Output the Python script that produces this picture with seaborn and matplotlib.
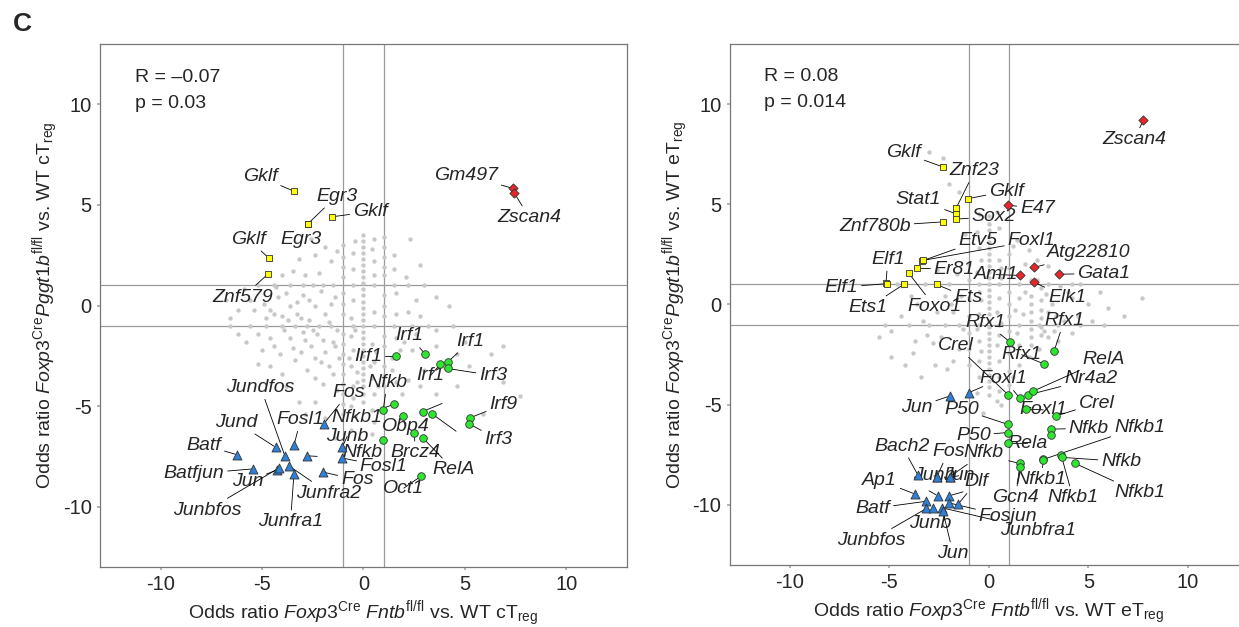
import matplotlib
matplotlib.use("Agg")

import matplotlib.pyplot as plt
import pandas as pd
import seaborn as sns

# background motifs (x, y)
LEFT_GRAY = [
    (0, 3.5), (0, 3.2), (0, 2.9), (0, 2.6), (0, 2.3), (0, 2.0), (0, 1.7), (0, 1.4), (0, 1.1),
    (0, 0.8), (0, 0.5), (0, 0.2), (0, -0.1), (0, -0.4), (0, -0.7), (0, -1.0), (0, -1.3),
    (0, -1.6), (0, -1.9), (0, -2.2), (0, -2.5), (0, -2.8), (0, -3.1), (0, -3.4), (0, -3.7),
    (0, -4.0), (0, -4.4), (0, -4.8),
    (-1, 3.0), (-1, 2.4), (-1, 1.9), (-1, 1.4), (-1, 0.6), (-1, 0.1), (-1, -0.4), (-1, -1.4),
    (-1, -1.9), (-1, -2.4), (-1, -2.9), (-1, -3.4), (-1, -3.9), (-1, -4.4), (-1, -4.9), (-1, -5.4),
    (1, 3.4), (1, 2.9), (1, 2.4), (1, 1.9), (1, 1.5), (1, 0.5), (1, 0.0), (1, -0.5), (1, -1.5),
    (1, -2.0), (1, -3.0), (1, -3.5), (1, -4.0),
    (-5.2, 1), (-4.4, 1), (-3.6, 1), (-3.0, 1), (-2.5, 1), (-2.0, 1), (-1.5, 1), (-0.5, 1),
    (0.5, 1), (1.5, 1), (2.2, 1), (3.0, 1),
    (-6.6, -1), (-5.6, -1), (-4.8, -1), (-4.0, -1), (-3.4, -1), (-2.8, -1), (-2.2, -1),
    (-1.6, -1), (-0.5, -1), (0.5, -1), (1.5, -1), (2.4, -1), (3.2, -1), (4.4, -1),
    (2.3, 3.3), (2.8, 2.0), (1.5, 2.5), (-2.4, 2.5), (-3.2, 2.3), (-2.9, 1.5), (-4.0, 1.5),
    (-3.5, 1.7), (-2.2, 1.6), (-1.6, 2.2), (-0.5, 2.6), (-0.5, 1.8), (0.5, 2.2), (0.5, 1.5),
    (3.6, 0.4), (2.6, 0.3), (1.6, 0.6), (-5.6, 0.3), (-6.8, 0.3), (-6.6, -0.6), (-5.4, -0.2),
    (-4.6, -0.2), (-3.6, 0.0), (-2.4, 0.0), (-1.9, -0.4), (-1.7, -0.8), (-4.2, 0.4), (-3.0, 0.5),
    (-1.4, 0.4), (-0.5, 0.3), (0.5, -0.3), (1.6, -0.4), (2.2, -0.3), (-5.2, -1.4), (-5.2, -2.9),
    (-4.4, -2.0), (-3.6, -1.6), (-3.1, -2.3), (-2.8, -3.2), (-2.1, -2.8), (-1.5, -1.8),
    (-2.4, -3.6), (-1.5, -3.4), (-0.5, -2.2), (-0.5, -4.0), (-0.5, -4.6), (0.5, -2.8),
    (1.6, -1.6), (2.6, -1.4), (3.6, -1.2), (4.6, -2.4), (6.3, -2.4), (6.9, -2.0), (7.7, -4.5),
    (6.9, -3.8), (4.6, -4.0), (3.6, -4.4), (5.9, -5.4), (2.2, -3.7), (-2.4, -4.8), (-3.2, -4.8),
    (-1.9, -5.6), (-4.8, -0.6), (-4.0, -0.5), (-3.3, -0.4), (-2.7, -0.7), (-2.3, -1.4),
    (-3.0, -1.3), (-3.9, -1.2), (-4.6, -1.6), (-2.6, -2.0), (-1.9, -2.3), (-1.2, -2.6),
    (-1.3, -1.2), (-0.6, -1.5), (-3.4, -2.7), (-2.0, -3.9), (-1.3, -4.2), (-0.6, -3.0),
    (0.4, -3.6), (0.5, -4.4), (0.4, -5.2), (-0.4, -5.5), (1.4, -3.2), (1.8, -2.2), (2.4, -2.2),
    (3.0, -3.2), (2.8, -4.0), (1.9, -4.4), (-4.0, -3.4), (-5.8, -1.8), (-6.2, -0.2),
    (-3.8, -4.0), (-2.9, -5.4), (-0.6, -6.2), (0.4, -6.4), (-1.4, -6.6), (3.6, -2.0),
    (4.0, -3.1), (5.2, -3.0), (5.0, -1.8), (4.2, 0.0), (2.8, -0.5),
    (-4.3, 0.9), (-3.8, 0.6), (-3.3, 0.2), (-2.7, 0.3), (-2.1, 0.7), (-1.6, 0.1), (-4.9, 0.1),
    (-4.4, -0.4), (-3.7, -0.7), (-3.1, -0.6), (-2.5, -1.2), (-2.0, -1.7), (-1.4, -2.0),
    (-2.9, -1.7), (-3.5, -2.1), (-4.1, -2.4), (-2.4, -2.6), (-1.7, -3.0), (-0.6, -0.6),
    (-0.4, -1.2), (-0.7, -2.6), (-0.3, -3.3), (0.4, -1.9), (0.6, -2.3), (0.3, -3.0),
    (0.7, -4.0), (-0.3, -3.8), (-0.6, -5.0), (0.5, -5.8), (1.4, -2.6), (1.6, -3.8),
    (2.0, -1.8), (-1.9, 2.9), (-2.6, 3.3), (-1.3, 2.7), (0.4, 2.8), (0.5, 3.3), (-0.4, 3.2),
    (1.5, 1.8), (2.1, 1.4), (-5.9, 0.8), (-6.2, -1.4), (-5.0, -2.2), (-4.6, -3.0),
]

RIGHT_GRAY = [
    (0, 4.4), (0, 4.0), (0, 3.7), (0, 3.4), (0, 3.1), (0, 2.8), (0, 2.5), (0, 2.2), (0, 1.9),
    (0, 1.6), (0, 1.3), (0, 1.0), (0, 0.7), (0, 0.4), (0, 0.1), (0, -0.2), (0, -0.5), (0, -0.8),
    (0, -1.1), (0, -1.4), (0, -1.7), (0, -2.0), (0, -2.3), (0, -2.6), (0, -2.9), (0, -3.2),
    (0, -3.5), (0, -3.8), (0, -4.1), (0, -4.5),
    (-1, 2.0), (-1, 1.2), (-1, 0.3), (-1, -0.6), (-1, -1.4), (-1, -2.2), (-1, -3.0),
    (1, 2.5), (1, 1.8), (1, 0.6), (1, 0.0), (1, -0.6), (1, -1.3), (1, -2.4), (1, -3.3), (1, -4.0),
    (2.1, 1.2), (2.1, 0.4), (2.1, 0.0), (2.1, -0.4), (2.1, -0.8), (2.1, -1.2), (2.1, -1.6),
    (2.1, -2.0), (2.6, 0.8), (2.6, 0.2), (2.6, -0.3), (2.6, -0.7), (2.6, -1.1), (2.6, -1.5),
    (-4.6, 1), (-3.2, 1), (-2.0, 1), (-0.5, 1), (0.5, 1), (1.5, 1), (3.0, 1), (4.2, 1),
    (-5.2, -1), (-4.0, -1), (-3.0, -1), (-2.2, -1), (-1.5, -1), (-0.5, -1), (0.5, -1),
    (1.5, -1), (2.5, -1), (3.5, -1), (4.6, -1), (5.8, -1),
    (-3.0, 7.6), (-2.3, 7.3), (-2.0, 6.0), (-1.5, 5.6), (-0.5, 4.5), (0.5, 3.8), (1.4, 3.2),
    (2.0, 2.7), (1.8, 2.0), (-1.2, 3.5), (-0.5, 2.8), (0.5, 2.2), (3.0, 1.9), (3.6, 0.9),
    (4.2, 0.3), (5.2, -0.8), (6.8, -0.6), (7.7, 0.3), (3.2, 0.0), (4.2, -1.4), (3.0, -1.6),
    (-5.5, -1.6), (-4.9, -1.3), (-4.9, -2.6), (-3.7, -1.8), (-3.1, -1.5), (-2.7, -3.0),
    (-2.1, -3.2), (-1.5, -2.2), (-1.3, -1.2), (-0.5, -1.8), (-0.5, -2.8), (-0.5, -3.6),
    (0.5, -2.8), (0.5, -3.6), (0.5, -4.3), (1.5, -2.0), (1.5, -3.0), (2.0, -2.6), (2.5, -2.2),
    (3.5, -1.8), (4.5, -0.6), (-1.8, -0.4), (-2.6, -0.4), (-3.6, 0.0), (-2.2, 0.4), (-1.4, 0.4),
    (-0.5, 0.6), (0.5, 0.3), (1.5, 0.3), (1.7, -0.5), (3.0, -0.4), (3.8, -0.8), (-0.5, -0.5),
    (0.5, -1.5), (-4.4, -0.6), (-3.3, -0.8), (-2.4, -1.6), (-1.8, -2.8), (-4.2, -3.0),
    (-3.4, -3.6), (-0.6, -4.4), (0.6, -5.0), (-0.3, -5.4), (1.6, 1.4), (2.4, 1.2), (-0.6, 1.6),
    (0.6, 1.3), (-1.6, 1.5), (4.6, 1.0), (5.6, 0.6), (6.0, -0.2),
    (0.4, -0.4), (0.6, -0.9), (1.3, -0.3), (1.4, -1.4), (1.8, 0.6), (2.9, 0.5), (3.4, -0.6),
    (-0.4, 0.2), (-0.6, -1.2), (-0.4, -2.3), (0.4, -2.0), (0.6, 1.8), (-0.4, 2.2), (-0.6, 3.6),
    (0.4, 4.6), (1.2, 2.9), (-1.9, 0.0), (-2.8, -1.9), (-3.8, -2.4), (1.2, -3.6), (0.4, -4.8),
    (2.8, -1.3), (3.3, -1.3), (4.0, 0.6), (5.0, 0.0), (2.4, 2.2), (-2.6, 1.7), (-3.9, 0.4),
]

# labelled motifs: (name, x, y, label x, label y)
LEFT_YELLOW = [
    ("Gklf", -3.42, 5.68, -5.1, 6.4),
    ("Egr3", -2.76, 4.05, -1.32, 5.44),
    ("Egr3", -2.74, 4.07, -3.07, 3.3),
    ("Gklf", -1.56, 4.41, 0.33, 4.67),
    ("Gklf", -4.65, 2.34, -5.68, 3.3),
    ("Znf579", -4.69, 1.59, -5.95, 0.42),
]
LEFT_RED = [
    ("Gm497", 7.39, 5.82, 5.06, 6.49),
    ("Zscan4", 7.45, 5.58, 8.19, 4.37),
]
LEFT_GREEN = [
    ("Irf1", 1.63, -2.53, 0.23, -2.54),
    ("Irf1", 3.05, -2.42, 2.28, -1.51),
    ("Irf1", 3.79, -2.92, 3.31, -3.48),
    ("Irf1", 4.15, -2.82, 5.27, -1.77),
    ("Irf3", 4.15, -3.13, 6.4, -3.48),
    ("Nfkb", 0.97, -5.2, 1.17, -3.83),
    ("Nfkb1", 1.53, -4.9, -0.31, -5.58),
    ("Obp4", 1.94, -5.47, 2.07, -6.0),
    ("", 2.92, -5.27, 3.88, -4.87),
    ("", 3.38, -5.38, 4.57, -6.25),
    ("Brcz4", 2.51, -6.33, 2.56, -7.33),
    ("RelA", 2.92, -6.57, 4.45, -8.17),
    ("Nfkb", 0.97, -6.7, -0.07, -7.33),
    ("Oct1", 2.82, -8.5, 1.99, -9.08),
    ("Irf9", 5.27, -5.58, 6.91, -4.92),
    ("Irf3", 5.19, -5.87, 6.67, -6.67),
]
LEFT_BLUE = [
    ("Batf", -6.22, -7.42, -7.87, -6.95),
    ("Batfjun", -5.43, -8.12, -8.36, -8.37),
    ("Jund", -4.33, -7.05, -6.26, -5.8),
    ("Jundfos", -3.87, -7.5, -5.07, -4.08),
    ("Fosl1", -3.43, -6.95, -3.1, -5.67),
    ("", -2.81, -7.47, -2.28, -7.5),
    ("Jun", -4.25, -8.17, -5.73, -8.75),
    ("Junbfos", -4.17, -8.08, -7.7, -10.17),
    ("Junfra2", -3.68, -7.97, -1.71, -9.33),
    ("Junfra1", -3.43, -8.37, -3.6, -10.75),
    ("Fos", -2.0, -8.28, -0.31, -8.67),
    ("Fos", -1.95, -5.87, -0.72, -4.33),
    ("Junb", -1.05, -7.05, -0.8, -6.5),
    ("Fosl1", -1.05, -7.58, 1.0, -8.0),
]

RIGHT_YELLOW = [
    ("Gklf", -2.32, 6.87, -4.27, 7.57),
    ("Znf23", -1.63, 4.82, -0.7, 6.67),
    ("Stat1", -1.63, 4.52, -3.52, 5.22),
    ("Sox2", -1.63, 4.26, 0.26, 4.38),
    ("Gklf", -1.03, 5.28, 0.89, 5.66),
    ("Znf780b", -2.32, 4.12, -5.7, 3.9),
    ("Etv5", -3.36, 2.17, -0.54, 3.17),
    ("Foxl1", -3.3, 2.2, 2.14, 3.17),
    ("Er81", -3.61, 1.81, -1.73, 1.75),
    ("Foxo1", -4.01, 1.55, -2.72, -0.1),
    ("Elf1", -5.16, 1.08, -5.06, 2.25),
    ("Elf1", -5.12, 1.04, -7.39, 0.86),
    ("Ets1", -4.27, 1.0, -6.06, -0.16),
    ("Ets", -2.62, 1.0, -1.03, 0.34),
]
RIGHT_RED = [
    ("Zscan4", 7.77, 9.22, 7.31, 8.23),
    ("E47", 0.95, 4.96, 2.44, 4.78),
    ("Atg22810", 2.28, 1.85, 5.02, 2.57),
    ("Aml1", 1.55, 1.45, 0.36, 1.49),
    ("Gata1", 3.54, 1.51, 5.78, 1.55),
    ("Elk1", 2.28, 1.1, 3.93, 0.36),
]
RIGHT_GREEN = [
    ("Rfx1", 1.09, -1.89, -0.14, -0.9),
    ("Rfx1", 3.28, -2.33, 3.79, -0.8),
    ("Rfx1", 2.78, -2.97, 1.65, -2.51),
    ("Crel", 0.99, -4.52, -1.63, -2.05),
    ("Foxl1", 1.55, -4.66, 0.75, -3.71),
    ("Nr4a2", 1.95, -4.52, 5.12, -3.71),
    ("RelA", 2.24, -4.32, 5.78, -2.75),
    ("Foxl1", 1.89, -5.22, 2.74, -5.26),
    ("Crel", 3.4, -5.56, 5.42, -4.92),
    ("P50", 0.95, -5.98, -1.37, -5.22),
    ("P50", 0.95, -6.39, -0.77, -6.53),
    ("Rela", 0.95, -6.93, 1.95, -6.93),
    ("", 1.55, -7.93, 1.0, -7.8),
    ("Gcn4", 1.55, -8.13, 1.35, -9.64),
    ("Nfkb", 3.14, -6.22, 5.02, -6.18),
    ("", 3.14, -6.53, 3.14, -6.53),
    ("Nfkb1", 2.74, -7.73, 7.57, -6.12),
    ("Nfkb1", 2.74, -7.75, 2.64, -8.73),
    ("Nfkb1", 3.63, -7.49, 4.23, -9.64),
    ("Nfkb", 3.67, -7.63, 6.65, -7.83),
    ("Nfkb1", 4.33, -7.93, 7.57, -9.4),
]
RIGHT_BLUE = [
    ("Jun", -1.96, -4.57, -3.61, -5.12),
    ("", -1.0, -4.4, -0.3, -4.1),
    ("Bach2", -3.55, -8.52, -4.35, -7.07),
    ("Fos", -2.6, -8.6, -2.03, -7.33),
    ("Junb", -2.6, -8.62, -2.75, -8.55),
    ("Nfkb", -1.96, -8.6, -0.24, -7.39),
    ("Jun", -1.96, -8.62, -1.5, -8.55),
    ("Ap1", -3.68, -9.47, -5.48, -8.77),
    ("Batf", -3.13, -9.82, -5.81, -10.18),
    ("Junbfos", -3.13, -10.18, -5.9, -11.77),
    ("", -2.55, -9.55, -3.0, -9.3),
    ("", -2.0, -9.55, -1.29, -9.35),
    ("Junb", -2.8, -10.18, -2.96, -10.93),
    ("Junbfra1", -2.33, -10.15, 2.48, -11.27),
    ("Jun", -2.3, -10.32, -1.79, -12.43),
    ("Fosjun", -2.0, -9.9, 0.97, -10.6),
    ("Dlf", -1.54, -9.97, -0.62, -8.85),
]

FONT = "Liberation Sans"

sns.set_theme(style="white")
plt.rcParams["font.family"] = [FONT, "DejaVu Sans"]
plt.rcParams["mathtext.fontset"] = "custom"
plt.rcParams["mathtext.rm"] = FONT
plt.rcParams["mathtext.it"] = f"{FONT}:italic"
plt.rcParams["mathtext.bf"] = f"{FONT}:bold"
plt.rcParams["axes.unicode_minus"] = False


def draw_panel(ax, gray, groups, xlabel, ylabel, r_text, p_text):
    for v in (-1, 1):
        ax.axhline(v, color="#9a9a9a", lw=0.9, zorder=1)
        ax.axvline(v, color="#9a9a9a", lw=0.9, zorder=1)

    gray_df = pd.DataFrame(gray, columns=["x", "y"])
    sns.scatterplot(data=gray_df, x="x", y="y", color="#c8c8c8", s=10,
                    linewidth=0, ax=ax, zorder=2)

    for rows, color, marker, size in groups:
        df = pd.DataFrame(rows, columns=["name", "x", "y", "lx", "ly"])
        for row in df.itertuples():
            ax.annotate(row.name, xy=(row.x, row.y), xytext=(row.lx, row.ly),
                        ha="center", va="center", fontsize=14, fontstyle="italic",
                        arrowprops=dict(arrowstyle="-", color="black", lw=0.6,
                                        shrinkA=0, shrinkB=1.5),
                        zorder=3)
        sns.scatterplot(data=df, x="x", y="y", color=color, marker=marker, s=size,
                        edgecolor="#333333", linewidth=0.6, ax=ax, zorder=4)

    ax.text(0.066, 0.937, r_text, transform=ax.transAxes, ha="left", va="center", fontsize=14)
    ax.text(0.066, 0.887, p_text, transform=ax.transAxes, ha="left", va="center", fontsize=14)

    ax.set_xlim(-13, 13)
    ax.set_ylim(-13, 13)
    ax.set_xticks([-10, -5, 0, 5, 10])
    ax.set_yticks([-10, -5, 0, 5, 10])
    ax.tick_params(labelsize=14.5, length=2, color="#aaaaaa", pad=4, left=True, bottom=True)
    ax.set_xlabel(xlabel, fontsize=14, labelpad=3)
    ax.set_ylabel(ylabel, fontsize=14, labelpad=1)
    for sp in ax.spines.values():
        sp.set_color("#777777")
        sp.set_linewidth(0.9)


fig = plt.figure(figsize=(12.39, 6.27), dpi=100)
ax_l = fig.add_axes([0.0807, 0.0957, 0.4253, 0.834])
ax_r = fig.add_axes([0.589, 0.0989, 0.418, 0.831])

groups_left = [
    (LEFT_YELLOW, "#ffff00", "s", 20),
    (LEFT_RED, "#e8262a", "D", 22),
    (LEFT_GREEN, "#2ee62e", "o", 30),
    (LEFT_BLUE, "#2f80d8", "^", 42),
]
groups_right = [
    (RIGHT_YELLOW, "#ffff00", "s", 20),
    (RIGHT_RED, "#e8262a", "D", 22),
    (RIGHT_GREEN, "#2ee62e", "o", 30),
    (RIGHT_BLUE, "#2f80d8", "^", 42),
]

draw_panel(
    ax_l, LEFT_GRAY, groups_left,
    r"Odds ratio $\mathit{Foxp3}^{\mathrm{Cre}}$ $\mathit{Fntb}^{\mathrm{fl/fl}}$ vs. WT cT$_{\mathrm{reg}}$",
    r"Odds ratio $\mathit{Foxp3}^{\mathrm{Cre}}\mathit{Pggt1b}^{\mathrm{fl/fl}}$ vs. WT cT$_{\mathrm{reg}}$",
    "R = \u20130.07", "p = 0.03",
)
draw_panel(
    ax_r, RIGHT_GRAY, groups_right,
    r"Odds ratio $\mathit{Foxp3}^{\mathrm{Cre}}$ $\mathit{Fntb}^{\mathrm{fl/fl}}$ vs. WT eT$_{\mathrm{reg}}$",
    r"Odds ratio $\mathit{Foxp3}^{\mathrm{Cre}}\mathit{Pggt1b}^{\mathrm{fl/fl}}$ vs. WT eT$_{\mathrm{reg}}$",
    "R = 0.08", "p = 0.014",
)

fig.text(0.018, 0.962, "C", fontsize=19, fontweight="bold", ha="center", va="center")

fig.savefig("out.png", dpi=100)
plt.close(fig)
